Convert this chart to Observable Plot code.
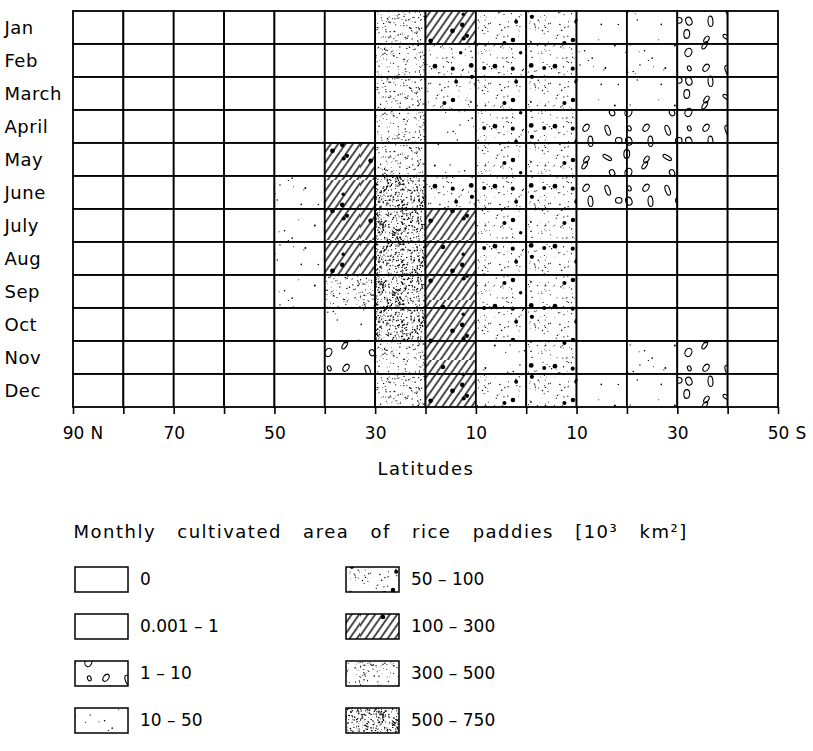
<!DOCTYPE html>
<html><head><meta charset="utf-8">
<script src="https://cdn.jsdelivr.net/npm/d3@7"></script>
<script src="https://cdn.jsdelivr.net/npm/@observablehq/plot@0.6"></script>
<style>
html,body{margin:0;padding:0;background:#fff;}
#chart svg{display:block;}
</style></head><body><div id="chart"></div>
<script>
// ---------- data ----------
const months = ["Jan","Feb","March","April","May","June","July","Aug","Sep","Oct","Nov","Dec"];
// northern edge of each 10° latitude band (+ = N, − = S)
const bandStarts = [90,80,70,60,50,40,30,20,10,0,-10,-20,-30,-40];
const classes = ["0","0.001 – 1","1 – 10","10 – 50","50 – 100","100 – 300","300 – 500","500 – 750"];
const tickLats = [90,70,50,30,10,-10,-30,-50];
// class index (into classes) per latitude band, one list per month
const janClass = [0,0,0,0,0,0,6,5,4,4,3,3,2,0];
const febClass = [0,0,0,0,0,0,6,4,4,4,3,3,2,0];
const marClass = [0,0,0,0,0,0,6,4,4,4,3,3,2,0];
const aprClass = [0,0,0,0,0,0,6,3,4,4,2,2,2,0];
const mayClass = [0,0,0,0,0,5,6,3,4,4,2,2,0,0];
const junClass = [0,0,0,0,3,5,7,4,4,4,2,2,0,0];
const julClass = [0,0,0,0,3,5,7,5,4,4,0,0,0,0];
const augClass = [0,0,0,0,3,5,7,5,4,4,0,0,0,0];
const sepClass = [0,0,0,0,3,6,7,5,4,4,0,0,0,0];
const octClass = [0,0,0,0,0,3,7,5,4,4,0,0,0,0];
const novClass = [0,0,0,0,0,2,6,5,3,4,0,3,2,0];
const decClass = [0,0,0,0,0,0,6,5,4,4,3,3,2,0];
const monthClasses = [janClass,febClass,marClass,aprClass,mayClass,junClass,julClass,augClass,sepClass,octClass,novClass,decClass];
const legendTitle = "Monthly cultivated area of rice paddies [10³ km²]";

const cells = months.flatMap((m, i) => monthClasses[i].map((c, j) => ({
  month: m, lat1: bandStarts[j], lat2: bandStarts[j] - 10, cls: classes[c]
})));

// ---------- texture patterns (style only) ----------
const patIds = ["pat0","pat0","pat2","pat3","pat4","pat5","pat6","pat7"];
const patUrls = patIds.map(id => `url(#${id})`);
function hash(i, k) { const s = Math.sin(i * 127.1 + k * 311.7) * 43758.5453; return s - Math.floor(s); }
function addPatterns(svg) {
  const defs = d3.select(svg).insert("defs", ":first-child");
  const T = 60;
  const pat = (id) => {
    const p = defs.append("pattern").attr("id", id).attr("patternUnits", "userSpaceOnUse")
      .attr("width", T).attr("height", T);
    p.append("rect").attr("width", T).attr("height", T).attr("fill", "#fff");
    return p;
  };
  const specks = (p, n, r, seed) => {
    for (let i = 0; i < n; i++) p.append("circle")
      .attr("cx", (hash(i, seed) * T).toFixed(2)).attr("cy", (hash(i, seed + 1) * T).toFixed(2))
      .attr("r", (r * (0.6 + 0.8 * hash(i, seed + 2))).toFixed(2)).attr("fill", "#000");
  };
  const bigDots = (p, n, r, seed) => {
    for (let i = 0; i < n; i++) p.append("circle")
      .attr("cx", (4 + hash(i, seed) * (T - 8)).toFixed(2)).attr("cy", (4 + hash(i, seed + 1) * (T - 8)).toFixed(2))
      .attr("r", (r * (0.8 + 0.4 * hash(i, seed + 2))).toFixed(2)).attr("fill", "#000");
  };
  pat("pat0");
  // 1 - 10 : open ovals, spread on a loose lattice, kept inside the tile
  const p2 = pat("pat2");
  let k = 0;
  for (let gy = 0; gy < 4; gy++) for (let gx = 0; gx < 3; gx++, k++) {
    const cx = 7 + gx * 16 + hash(k, 21) * 8 + (gy % 2) * 4, cy = 6 + gy * 13 + hash(k, 22) * 8;
    p2.append("ellipse").attr("cx", cx.toFixed(2)).attr("cy", cy.toFixed(2))
      .attr("rx", (1.6 + hash(k, 23) * 1.8).toFixed(2)).attr("ry", (2.6 + hash(k, 24) * 2.8).toFixed(2))
      .attr("transform", `rotate(${(hash(k, 25) * 120 - 60).toFixed(1)} ${cx.toFixed(2)} ${cy.toFixed(2)})`)
      .attr("fill", "none").attr("stroke", "#000").attr("stroke-width", 1.1);
  }
  // 10 - 50 : sparse small dots
  const p3 = pat("pat3");
  specks(p3, 18, 0.8, 31);
  // 50 - 100 : light stipple + big dots
  const p4 = pat("pat4");
  specks(p4, 110, 0.55, 41);
  bigDots(p4, 9, 2.1, 44);
  // 100 - 300 : hatching + dots
  const h = defs.append("pattern").attr("id", "hatch").attr("patternUnits", "userSpaceOnUse")
    .attr("width", 6).attr("height", 6).attr("patternTransform", "rotate(35)");
  h.append("line").attr("x1", 3).attr("x2", 3).attr("y1", 0).attr("y2", 6)
    .attr("stroke", "#000").attr("stroke-width", 1.4);
  const p5 = pat("pat5");
  p5.append("rect").attr("width", T).attr("height", T).attr("fill", "url(#hatch)");
  bigDots(p5, 7, 2.1, 51);
  // 300 - 500 : stipple
  const p6 = pat("pat6");
  specks(p6, 260, 0.55, 61);
  // 500 - 750 : dense stipple
  const p7 = pat("pat7");
  specks(p7, 620, 0.62, 71);
}
function spaceText(svg, match, letter, word) {
  d3.select(svg).selectAll("text").filter(function() { return match(this.textContent); })
    .style("letter-spacing", letter + "px").style("word-spacing", word + "px");
}

const font = "DejaVu Sans, sans-serif";
const colorSpec = {type: "ordinal", domain: classes, range: patUrls};

// ---------- main grid ----------
const main = Plot.plot({
  width: 813, height: 490,
  marginLeft: 73, marginRight: 35, marginTop: 10, marginBottom: 83,
  style: {fontFamily: font, background: "#fff", color: "#000"},
  x: {type: "linear", domain: [90, -50]},
  y: {type: "band", domain: months, padding: 0, axis: null},
  color: colorSpec,
  marks: [
    Plot.barX(cells, {x1: "lat1", x2: "lat2", y: "month", fill: "cls", stroke: "#000", strokeWidth: 1.8, inset: 0}),
    Plot.axisX({ticks: d3.range(90, -51, -10), tickSize: 7, tickPadding: 12, strokeWidth: 1.6,
      tickFormat: d => tickLats.includes(d) ? String(Math.abs(d)) : "", fontSize: 17, label: null}),
    Plot.text([{lat: 90, t: "N"}, {lat: -50, t: "S"}], {x: "lat", text: "t", frameAnchor: "bottom",
      dy: 19, dx: 17, textAnchor: "start", lineAnchor: "top", fontSize: 17}),
    Plot.text(["Latitudes"], {frameAnchor: "bottom", dy: 55, lineAnchor: "top", fontSize: 18, text: d => d}),
    Plot.text(months, {y: d => d, text: d => d, frameAnchor: "left", dx: -69, textAnchor: "start", fontSize: 18})
  ]
});
addPatterns(main);
spaceText(main, t => t === "Latitudes", 1.5, 0);
spaceText(main, t => months.includes(t), 0.5, 0);

// ---------- legend ----------
const legendRows = classes.map((c, i) => ({cls: c, col: i < 4 ? 0 : 1, row: i % 4}));
const legend = Plot.plot({
  width: 813, height: 261, margin: 0,
  style: {fontFamily: font, background: "#fff", color: "#000"},
  x: {type: "band", domain: [0, 1], range: [75, 400], paddingInner: 0.805, paddingOuter: 0, align: 0, axis: null},
  y: {type: "band", domain: [0, 1, 2, 3], range: [77, 247], paddingInner: 0.458, paddingOuter: 0, align: 0, axis: null},
  color: colorSpec,
  marks: [
    Plot.cell(legendRows, {x: "col", y: "row", fill: "cls", stroke: "#000", strokeWidth: 1.5}),
    Plot.text(legendRows, {x: "col", y: "row", text: "cls", dx: 38, textAnchor: "start", fontSize: 17}),
    Plot.text([legendTitle], {text: d => d, frameAnchor: "top-left", dx: 73, dy: 47, lineAnchor: "bottom",
      textAnchor: "start", fontSize: 18})
  ]
});
spaceText(legend, t => t === legendTitle, 1.5, 14);
const chart = document.getElementById("chart");
chart.appendChild(main);
chart.appendChild(legend);
</script></body></html>
